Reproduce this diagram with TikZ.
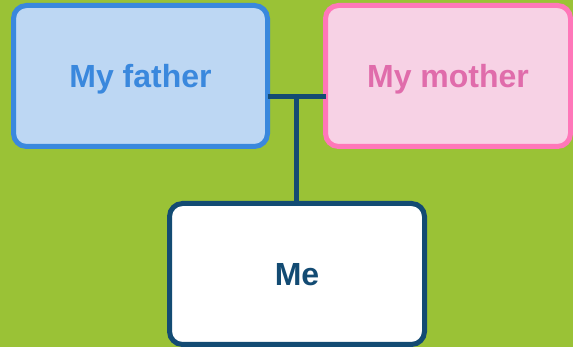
\documentclass[tikz,border=0pt]{standalone}
\usepackage{fontspec}
\setmainfont{Liberation Sans}
\definecolor{bggreen}{HTML}{9AC236}
\definecolor{fafill}{HTML}{BDD7F3}
\definecolor{faline}{HTML}{3A88DD}
\definecolor{motfill}{HTML}{F7D2E5}
\definecolor{motline}{HTML}{FF77B9}
\definecolor{mottext}{HTML}{E06CAB}
\definecolor{medark}{HTML}{134B73}
\begin{document}
\begin{tikzpicture}[x=1pt,y=-1pt,
  person/.style={draw, line width=5pt, rounded corners=13pt, minimum height=141pt,
    inner sep=0pt, outer sep=0pt, text height=23pt, text depth=0pt,
    font=\fontsize{32}{32}\selectfont\bfseries},
  link/.style={draw=medark, line width=5pt}]
\fill[bggreen] (0,0) rectangle (573,347);
\useasboundingbox (0,0) rectangle (573,347);
\node[person, fill=fafill, draw=faline, text=faline, minimum width=254pt] (father) at (140.5,76) {My father};
\node[person, fill=motfill, draw=motline, text=mottext, minimum width=245pt] (mother) at (448,76) {My mother};
\node[person, fill=white, draw=medark, text=medark, minimum width=255pt] (me) at (297,274) {Me};
\coordinate (j) at (296.5,96.5);
\draw[link] (father.east |- j) -- (mother.west |- j);
\draw[link] (j) -- (j |- me.north);
\end{tikzpicture}
\end{document}
